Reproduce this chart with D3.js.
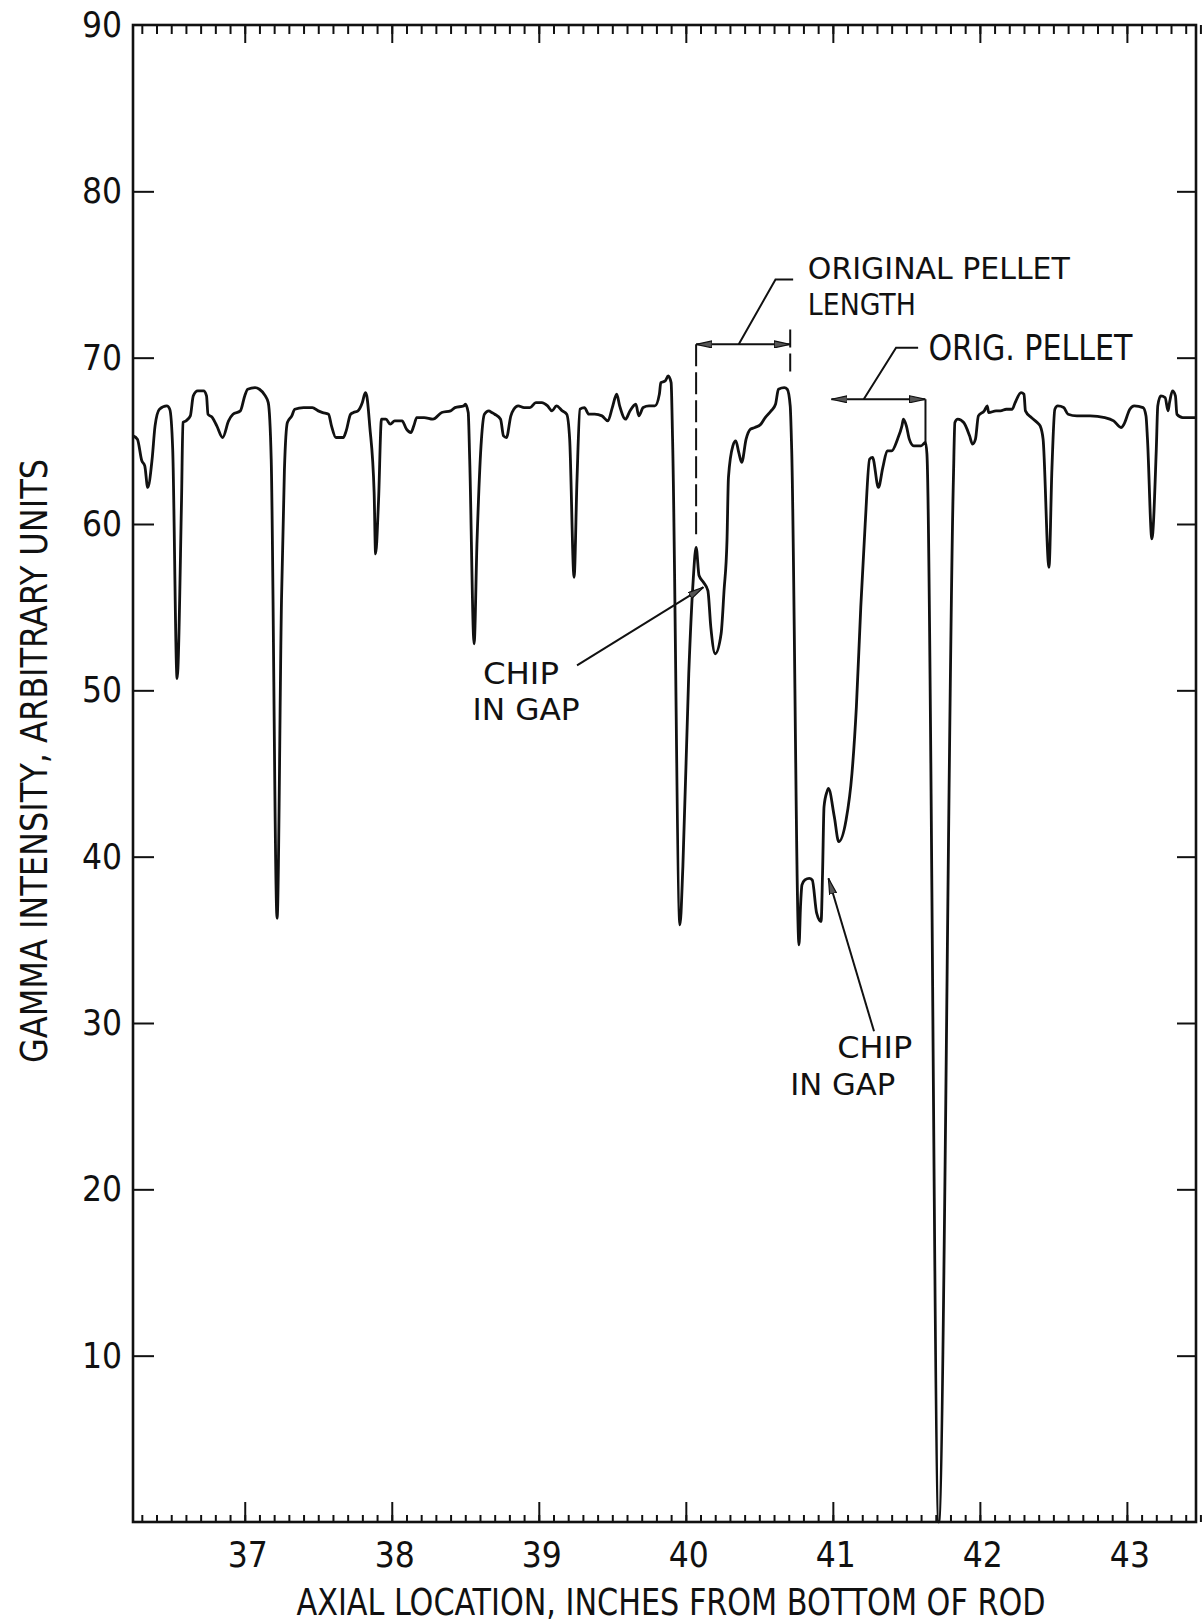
<!DOCTYPE html>
<html>
<head>
<meta charset="utf-8">
<script src="https://cdn.jsdelivr.net/npm/d3@7"></script>
<style>
  body { margin: 0; background: #fff; }
  svg { display: block; background: #fff; }
  text {
    font-family: "Liberation Sans Narrow", "DejaVu Sans Condensed", "Roboto Condensed", "Liberation Sans", sans-serif;
    fill: #111;
  }
</style>
</head>
<body>
<svg width="1202" height="1624"></svg>
<script>
// gamma scan of the rod
const axialInches = [
  36.24, 36.27, 36.30, 36.32, 36.34, 36.37, 36.39, 36.42, 36.47, 36.49,
  36.51, 36.54, 36.57, 36.58, 36.60, 36.63, 36.65, 36.68, 36.72, 36.74,
  36.75, 36.78, 36.81, 36.85, 36.89, 36.92, 36.97, 37.00, 37.02, 37.07,
  37.10, 37.14, 37.16, 37.18, 37.22, 37.25, 37.27, 37.29, 37.32, 37.34,
  37.40, 37.46, 37.50, 37.53, 37.57, 37.59, 37.62, 37.67, 37.69, 37.72,
  37.74, 37.77, 37.80, 37.82, 37.83, 37.85, 37.88, 37.89, 37.91, 37.93,
  37.96, 37.99, 38.02, 38.07, 38.10, 38.13, 38.15, 38.17, 38.22, 38.28,
  38.34, 38.40, 38.43, 38.49, 38.50, 38.52, 38.53, 38.56, 38.58, 38.61,
  38.63, 38.66, 38.68, 38.70, 38.74, 38.76, 38.78, 38.81, 38.83, 38.86,
  38.90, 38.94, 38.98, 39.02, 39.06, 39.09, 39.12, 39.16, 39.19, 39.21,
  39.24, 39.26, 39.28, 39.31, 39.34, 39.38, 39.43, 39.47, 39.50, 39.53,
  39.55, 39.59, 39.62, 39.66, 39.68, 39.71, 39.75, 39.79, 39.82, 39.83,
  39.86, 39.88, 39.90, 39.91, 39.96, 39.98, 40.02, 40.05, 40.07, 40.09,
  40.12, 40.15, 40.17, 40.20, 40.24, 40.26, 40.28, 40.29, 40.32, 40.34,
  40.36, 40.38, 40.41, 40.44, 40.47, 40.51, 40.54, 40.58, 40.61, 40.63,
  40.67, 40.69, 40.71, 40.72, 40.77, 40.78, 40.79, 40.81, 40.84, 40.86,
  40.89, 40.92, 40.93, 40.94, 40.96, 40.97, 41.01, 41.04, 41.09, 41.13,
  41.16, 41.19, 41.22, 41.25, 41.27, 41.31, 41.34, 41.37, 41.40, 41.44,
  41.47, 41.48, 41.50, 41.52, 41.55, 41.60, 41.63, 41.64, 41.72, 41.82,
  41.83, 41.85, 41.89, 41.93, 41.95, 41.97, 41.99, 42.03, 42.05, 42.06,
  42.11, 42.14, 42.18, 42.22, 42.24, 42.28, 42.30, 42.31, 42.35, 42.39,
  42.41, 42.43, 42.47, 42.49, 42.51, 42.53, 42.57, 42.60, 42.66, 42.75,
  42.85, 42.91, 42.96, 42.98, 43.02, 43.05, 43.11, 43.13, 43.14, 43.17,
  43.20, 43.21, 43.23, 43.26, 43.28, 43.29, 43.31, 43.33, 43.34, 43.38,
  43.47
];

const gammaIntensity = [
  65.3, 65.1, 63.8, 63.5, 62.2, 63.9, 65.9, 66.9, 67.1, 66.9,
  64.5, 50.7, 61.4, 66.1, 66.2, 66.5, 67.7, 68.0, 68.0, 67.7,
  66.6, 66.4, 65.9, 65.2, 66.2, 66.6, 66.8, 67.7, 68.1, 68.2,
  68.1, 67.7, 67.3, 63.9, 36.3, 55.4, 63.3, 66.1, 66.5, 66.9,
  67.0, 67.0, 66.8, 66.7, 66.6, 65.9, 65.2, 65.2, 65.6, 66.6,
  66.7, 66.8, 67.3, 67.9, 67.7, 65.9, 61.9, 58.2, 61.4, 66.3,
  66.3, 66.0, 66.2, 66.2, 65.7, 65.5, 65.9, 66.4, 66.4, 66.3,
  66.7, 66.8, 67.0, 67.1, 67.2, 66.7, 63.9, 52.8, 59.0, 65.1,
  66.6, 66.8, 66.7, 66.6, 66.3, 65.3, 65.2, 66.5, 66.9, 67.1,
  67.0, 67.0, 67.3, 67.3, 67.1, 66.8, 67.1, 66.8, 66.6, 65.1,
  56.8, 62.7, 66.9, 67.0, 66.6, 66.6, 66.5, 66.2, 67.0, 67.8,
  67.1, 66.3, 66.8, 67.2, 66.5, 67.0, 67.1, 67.1, 67.8, 68.5,
  68.6, 68.9, 68.5, 65.1, 35.9, 39.4, 51.0, 56.6, 58.6, 56.9,
  56.5, 56.0, 53.8, 52.2, 53.4, 56.0, 59.0, 62.8, 64.7, 65.0,
  64.3, 63.7, 65.1, 65.7, 65.8, 66.0, 66.4, 66.8, 67.2, 68.1,
  68.2, 68.1, 67.1, 64.5, 34.7, 37.0, 38.3, 38.6, 38.7, 38.6,
  36.6, 36.1, 39.0, 43.0, 43.9, 44.1, 42.4, 40.9, 42.2, 45.0,
  49.0, 55.0, 60.0, 63.9, 64.0, 62.2, 63.4, 64.4, 64.4, 65.1,
  65.9, 66.3, 65.9, 65.1, 64.7, 64.7, 64.9, 64.2, 0.0, 62.7,
  66.1, 66.3, 66.1, 65.3, 64.8, 65.1, 66.5, 66.8, 67.1, 66.7,
  66.8, 66.8, 66.9, 66.9, 67.3, 67.9, 67.8, 66.8, 66.4, 66.1,
  65.9, 65.1, 57.4, 63.3, 66.9, 67.1, 67.0, 66.6, 66.5, 66.5,
  66.4, 66.2, 65.8, 66.0, 66.9, 67.1, 67.0, 66.5, 65.1, 59.1,
  64.5, 67.1, 67.7, 67.6, 66.8, 67.3, 68.0, 67.7, 66.6, 66.4,
  66.4
];

const xTickLabels = [37, 38, 39, 40, 41, 42, 43];
const yTickLabels = [10, 20, 30, 40, 50, 60, 70, 80, 90];
const yTickMarks = [10, 20, 30, 40, 50, 60, 70, 80];

// annotation anchors, in axis units
const pelletLength = { from: 40.07, to: 40.71, level: 70.8, leftFoot: 59.3, rightTop: 71.7, rightFoot: 69.0 };
const pelletLeader = [[40.36, 70.8], [40.61, 74.7], [40.73, 74.7]];
const origPellet = { from: 40.99, to: 41.63, level: 67.5, foot: 64.9 };
const origLeader = [[41.21, 67.5], [41.43, 70.6], [41.58, 70.6]];
const chipArrows = [
  { tail: [39.26, 51.5], head: [40.12, 56.2] },
  { tail: [41.28, 29.5], head: [40.97, 38.7] }
];
const notes = [
  { text: "ORIGINAL PELLET", x: 40.83, y: 74.75, len: 262, size: 31 },
  { text: "LENGTH", x: 40.83, y: 72.55, len: 108, size: 31 },
  { text: "ORIG. PELLET", x: 41.65, y: 69.85, len: 204, size: 35 },
  { text: "CHIP", x: 38.62, y: 50.4, len: 76, size: 30 },
  { text: "IN GAP", x: 38.55, y: 48.2, len: 107, size: 30 },
  { text: "CHIP", x: 41.03, y: 27.9, len: 75, size: 30 },
  { text: "IN GAP", x: 40.71, y: 25.7, len: 105, size: 30 }
];

function drawChart() {
  const svg = d3.select("svg");
  const area = { left: 133, right: 1196, top: 25, bottom: 1522 };

  const scX = d3.scaleLinear().domain([36.24, 43.47]).range([area.left, area.right]);
  const scY = d3.scaleLinear().domain([0, 90]).range([area.bottom, area.top]);

  const defs = svg.append("defs");
  defs.append("marker")
    .attr("id", "head")
    .attr("viewBox", "0 0 16 8")
    .attr("refX", 16)
    .attr("refY", 4)
    .attr("markerWidth", 16)
    .attr("markerHeight", 8)
    .attr("markerUnits", "userSpaceOnUse")
    .attr("orient", "auto-start-reverse")
    .append("path")
    .attr("d", "M0,0.5 L16,4 L0,7.5 Z")
    .style("fill", "#555")
    .style("stroke", "#111")
    .style("stroke-width", 1.2);

  // frame
  svg.append("rect")
    .attr("x", area.left)
    .attr("y", area.top)
    .attr("width", area.right - area.left)
    .attr("height", area.bottom - area.top)
    .style("fill", "none")
    .style("stroke", "#111")
    .style("stroke-width", 2.6);

  const minor = d3.range(363, 4347).map(d => d / 10);

  // bottom scale, ticks point up into the plot
  svg.append("g")
    .attr("transform", `translate(0, ${area.bottom})`)
    .call(d3.axisTop(scX).tickValues(minor).tickSize(7).tickFormat(""));
  svg.append("g")
    .attr("transform", `translate(0, ${area.bottom})`)
    .call(d3.axisTop(scX).tickValues(xTickLabels).tickSize(20).tickFormat(""));

  // top scale
  svg.append("g")
    .attr("transform", `translate(0, ${area.top})`)
    .call(d3.axisBottom(scX).tickValues(minor).tickSize(9).tickFormat(""));
  svg.append("g")
    .attr("transform", `translate(0, ${area.top})`)
    .call(d3.axisBottom(scX).tickValues(xTickLabels).tickSize(18).tickFormat(""));

  svg.append("g")
    .attr("transform", `translate(${area.left}, 0)`)
    .call(d3.axisRight(scY).tickValues(yTickMarks).tickSize(21).tickFormat(""));
  svg.append("g")
    .attr("transform", `translate(${area.right}, 0)`)
    .call(d3.axisLeft(scY).tickValues(yTickMarks).tickSize(19).tickFormat(""));

  svg.selectAll(".domain").remove();
  svg.selectAll(".tick line")
    .style("stroke", "#111")
    .style("stroke-width", 2);

  svg.selectAll(".ylab")
    .data(yTickLabels)
    .enter()
    .append("text")
    .attr("class", "ylab")
    .attr("x", area.left - 11)
    .attr("y", d => scY(d) + 12)
    .attr("text-anchor", "end")
    .style("font-size", "35px")
    .text(d => d);

  svg.selectAll(".xlab")
    .data(xTickLabels)
    .enter()
    .append("text")
    .attr("class", "xlab")
    .attr("x", d => scX(d) + 3)
    .attr("y", area.bottom + 45)
    .attr("text-anchor", "middle")
    .style("font-size", "35px")
    .text(d => d);

  svg.append("text")
    .attr("x", 671)
    .attr("y", 1615)
    .attr("text-anchor", "middle")
    .attr("textLength", 749)
    .attr("lengthAdjust", "spacingAndGlyphs")
    .style("font-size", "38px")
    .text("AXIAL LOCATION, INCHES FROM BOTTOM OF ROD");

  svg.append("text")
    .attr("transform", "translate(47, 761) rotate(-90)")
    .attr("text-anchor", "middle")
    .attr("textLength", 604)
    .attr("lengthAdjust", "spacingAndGlyphs")
    .style("font-size", "38px")
    .text("GAMMA INTENSITY, ARBITRARY UNITS");

  // the scan trace
  const points = axialInches.map((d, i) => [d, gammaIntensity[i]]);
  const line = d3.line()
    .x(d => scX(d[0]))
    .y(d => scY(d[1]))
    .curve(d3.curveMonotoneX);

  svg.append("path")
    .datum(points)
    .attr("d", line)
    .style("fill", "none")
    .style("stroke", "#111")
    .style("stroke-width", 2.8)
    .style("stroke-linejoin", "round");

  // annotations
  const ink = sel => sel.style("fill", "none").style("stroke", "#111").style("stroke-width", 2);
  const seg = d3.line().x(d => scX(d[0])).y(d => scY(d[1]));

  svg.append("line")
    .attr("x1", scX(pelletLength.from)).attr("x2", scX(pelletLength.to))
    .attr("y1", scY(pelletLength.level)).attr("y2", scY(pelletLength.level))
    .attr("marker-start", "url(#head)")
    .attr("marker-end", "url(#head)")
    .call(ink);
  svg.append("line")
    .attr("x1", scX(pelletLength.from)).attr("x2", scX(pelletLength.from))
    .attr("y1", scY(pelletLength.level)).attr("y2", scY(pelletLength.leftFoot))
    .style("stroke-dasharray", "22,6")
    .call(ink);
  svg.append("line")
    .attr("x1", scX(pelletLength.to)).attr("x2", scX(pelletLength.to))
    .attr("y1", scY(pelletLength.rightTop)).attr("y2", scY(pelletLength.rightFoot))
    .style("stroke-dasharray", "18,6")
    .call(ink);
  svg.append("path").attr("d", seg(pelletLeader)).call(ink);

  svg.append("line")
    .attr("x1", scX(origPellet.from)).attr("x2", scX(origPellet.to))
    .attr("y1", scY(origPellet.level)).attr("y2", scY(origPellet.level))
    .attr("marker-start", "url(#head)")
    .attr("marker-end", "url(#head)")
    .call(ink);
  svg.append("line")
    .attr("x1", scX(origPellet.to)).attr("x2", scX(origPellet.to))
    .attr("y1", scY(origPellet.level)).attr("y2", scY(origPellet.foot))
    .call(ink);
  svg.append("path").attr("d", seg(origLeader)).call(ink);

  svg.selectAll(".chip")
    .data(chipArrows)
    .enter()
    .append("line")
    .attr("class", "chip")
    .attr("x1", d => scX(d.tail[0])).attr("y1", d => scY(d.tail[1]))
    .attr("x2", d => scX(d.head[0])).attr("y2", d => scY(d.head[1]))
    .attr("marker-end", "url(#head)")
    .call(ink);

  svg.selectAll(".note")
    .data(notes)
    .enter()
    .append("text")
    .attr("class", "note")
    .attr("x", d => scX(d.x))
    .attr("y", d => scY(d.y))
    .attr("textLength", d => d.len)
    .attr("lengthAdjust", "spacingAndGlyphs")
    .style("font-size", d => d.size + "px")
    .text(d => d.text);
}

drawChart();
</script>
</body>
</html>
